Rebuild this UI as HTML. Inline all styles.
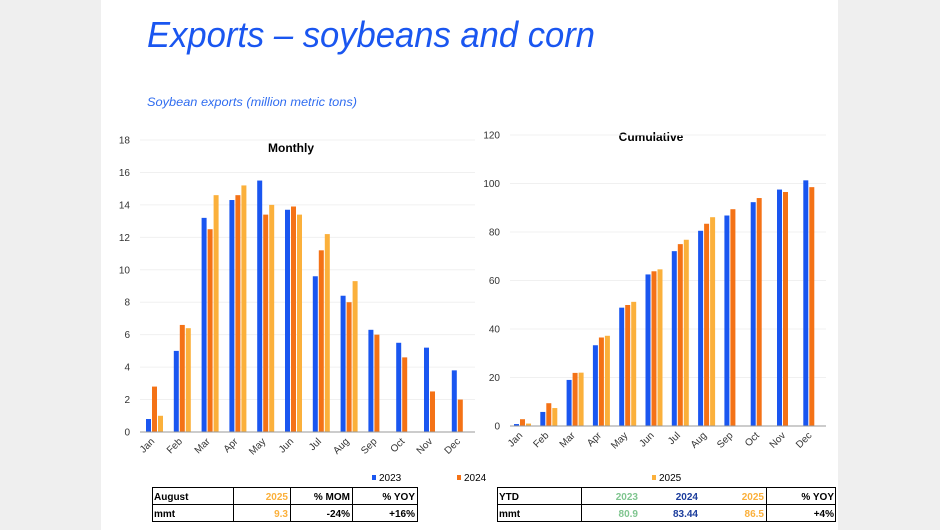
<!DOCTYPE html>
<html><head><meta charset="utf-8"><style>
html,body{margin:0;padding:0;background:#efefef;}
svg{display:block;font-family:"Liberation Sans",sans-serif;}
</style></head><body>
<svg id="s" width="940" height="530" xmlns="http://www.w3.org/2000/svg">
<rect x="0" y="0" width="940" height="530" fill="#efefef"/>
<rect x="101" y="0" width="737" height="530" fill="#ffffff"/>
<text x="147" y="47" font-size="36" font-style="italic" fill="#1a56f0" textLength="448" lengthAdjust="spacingAndGlyphs">Exports – soybeans and corn</text>
<text x="147" y="106" font-size="12" font-style="italic" fill="#2f6cf0" textLength="210" lengthAdjust="spacingAndGlyphs">Soybean exports (million metric tons)</text>
<text x="291" y="152" font-size="12" font-weight="bold" text-anchor="middle" fill="#000">Monthly</text>
<text x="651" y="141" font-size="12" font-weight="bold" text-anchor="middle" fill="#000">Cumulative</text>
<g id="g"></g>
<g font-size="10" fill="#000">
<rect x="372" y="475" width="4" height="5" fill="#1a56f0"/><text x="379" y="481">2023</text>
<rect x="457" y="475" width="4" height="5" fill="#f47216"/><text x="464" y="481">2024</text>
<rect x="652" y="475" width="4" height="5" fill="#fbb03b"/><text x="659" y="481">2025</text>
</g>
<g stroke="#000" stroke-width="1" fill="none">
<rect x="152.5" y="487.5" width="265" height="34"/>
<line x1="152" y1="504.5" x2="418" y2="504.5"/>
<line x1="233.5" y1="487" x2="233.5" y2="522"/>
<line x1="290.5" y1="487" x2="290.5" y2="522"/>
<line x1="352.5" y1="487" x2="352.5" y2="522"/>
<rect x="497.5" y="487.5" width="338" height="34"/>
<line x1="497" y1="504.5" x2="836" y2="504.5"/>
<line x1="581.5" y1="487" x2="581.5" y2="522"/>
<line x1="766.5" y1="487" x2="766.5" y2="522"/>
</g>
<g font-size="10" font-weight="bold">
<text x="154" y="500">August</text>
<text x="288" y="500" text-anchor="end" fill="#fbb03b">2025</text>
<text x="350" y="500" text-anchor="end">% MOM</text>
<text x="415" y="500" text-anchor="end">% YOY</text>
<text x="154" y="517">mmt</text>
<text x="288" y="517" text-anchor="end" fill="#fbb03b">9.3</text>
<text x="350" y="517" text-anchor="end">-24%</text>
<text x="415" y="517" text-anchor="end">+16%</text>
<text x="499" y="500">YTD</text>
<text x="638" y="500" text-anchor="end" fill="#7fc58f">2023</text>
<text x="698" y="500" text-anchor="end" fill="#1b3c9c">2024</text>
<text x="764" y="500" text-anchor="end" fill="#fbb03b">2025</text>
<text x="834" y="500" text-anchor="end">% YOY</text>
<text x="499" y="517">mmt</text>
<text x="638" y="517" text-anchor="end" fill="#7fc58f">80.9</text>
<text x="698" y="517" text-anchor="end" fill="#1b3c9c">83.44</text>
<text x="764" y="517" text-anchor="end" fill="#fbb03b">86.5</text>
<text x="834" y="517" text-anchor="end">+4%</text>
</g>
</svg>
<script>
var NS="http://www.w3.org/2000/svg",g=document.getElementById("g"),h="";
var C=["#1a56f0","#f47216","#fbb03b"],M=["Jan","Feb","Mar","Apr","May","Jun","Jul","Aug","Sep","Oct","Nov","Dec"];
var m=[[0.8,5.0,13.2,14.3,15.5,13.7,9.6,8.4,6.3,5.5,5.2,3.8],[2.8,6.6,12.5,14.6,13.4,13.9,11.2,8.0,6.0,4.6,2.5,2.0],[1.0,6.4,14.6,15.2,14.0,13.4,12.2,9.3]];
var c=[[0.8,5.8,19,33.3,48.8,62.5,72.1,80.5,86.8,92.3,97.5,101.3],[2.8,9.4,21.9,36.5,49.9,63.8,75.0,83.4,89.4,94.0,96.5,98.5],[1,7.4,22,37.2,51.2,64.6,76.8,86.1]];
function chart(d,x0,step,y0,yTop,max,tick,gx1,gx2,lx){
 var k=(y0-yTop)/max;
 for(var v=0;v<=max;v+=tick){var y=y0-v*k;
  if(v>0)h+='<line x1="'+gx1+'" x2="'+gx2+'" y1="'+y+'" y2="'+y+'" stroke="#f0f0f0"/>';
  h+='<text x="'+lx+'" y="'+(y+3.5)+'" font-size="10" text-anchor="end" fill="#333">'+v+'</text>';}
 for(var s=0;s<3;s++)for(var i=0;i<d[s].length;i++){var x=x0+i*step+s*6,bh=d[s][i]*k;
  h+='<rect x="'+x+'" y="'+(y0-bh)+'" width="5" height="'+bh+'" fill="'+C[s]+'"/>';}
 h+='<line x1="'+gx1+'" x2="'+gx2+'" y1="'+y0+'" y2="'+y0+'" stroke="#999"/>';
 for(var i=0;i<12;i++){var cx=x0+i*step+9,ty=y0+10;
  h+='<text transform="translate('+cx+','+ty+') rotate(-45)" font-size="10" text-anchor="end" fill="#333">'+M[i]+'</text>';}
}
chart(m,146,27.8,432,140,18,2,140,475,130);
chart(c,514,26.3,426,135,120,20,510,826,500);
g.innerHTML=h;
</script>
</body></html>
